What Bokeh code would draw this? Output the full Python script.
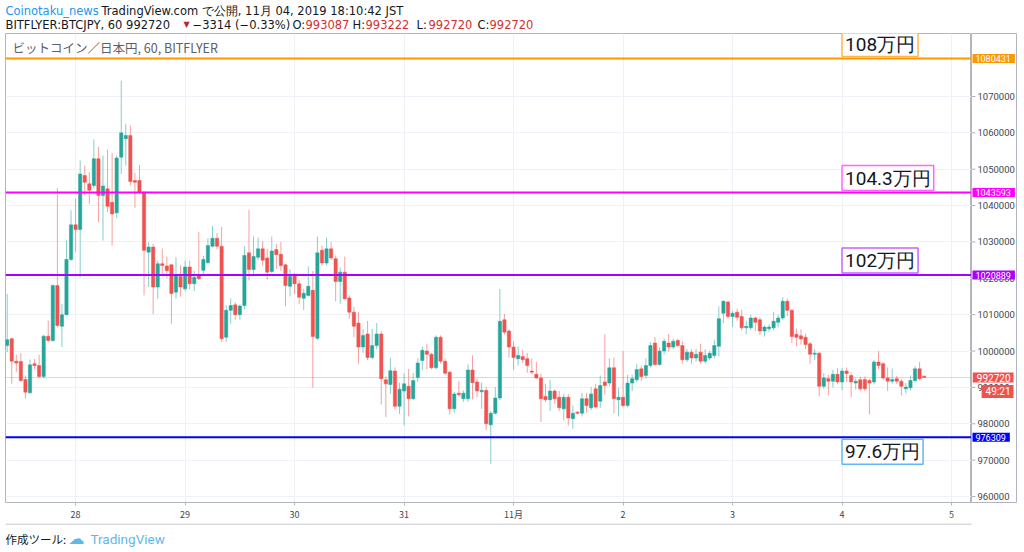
from bokeh.plotting import figure
from bokeh.layouts import column, row
from bokeh.models import Range1d, FixedTicker, Span, Label, ColumnDataSource, Grid
from bokeh.core.properties import value
from bokeh.embed import file_html
from bokeh.resources import INLINE

# ---- data: BITFLYER BTCJPY, 60-minute candles, prices in thousand yen ----
first_hour = 9  # first candle: 10/27 09:00 JST (hours counted from 10/27 00:00)
opens = [1001.5, 1003.4, 997.2, 997.1, 992.2, 988.5, 996.5, 996.0, 993.0, 1004.1,
         1002.9, 1018.0, 1006.8, 1010.0, 1025.2, 1034.7, 1033.4, 1048.3, 1046.0, 1045.5,
         1052.9, 1042.8, 1044.6, 1040.9, 1038.0, 1053.3, 1058.4, 1059.3, 1046.9, 1046.9,
         1043.7, 1027.2, 1028.6, 1017.6, 1024.0, 1023.4, 1023.7, 1016.2, 1020.5, 1017.1,
         1023.1, 1018.5, 1020.8, 1022.2, 1024.3, 1028.8, 1031.0, 1028.8, 1003.8, 1011.2,
         1012.7, 1010.0, 1012.5, 1027.0, 1022.4, 1025.8, 1028.1, 1025.6, 1021.9, 1027.9,
         1026.6, 1023.7, 1017.8, 1020.8, 1018.5, 1014.5, 1015.3, 1016.7, 1003.5, 1027.7,
         1024.2, 1028.1, 1025.4, 1019.1, 1021.7, 1014.6, 1010.7, 1007.7, 1001.1, 1004.7,
         998.2, 1001.5, 1004.7, 992.1, 990.8, 994.5, 984.8, 989.0, 990.3, 986.9,
         992.7, 997.4, 1000.0, 999.1, 995.4, 1003.8, 997.2, 994.2, 984.1, 988.4,
         986.9, 986.9, 994.8, 991.5, 988.8, 989.2, 979.7, 982.9, 987.1, 1008.6,
         1005.5, 1001.1, 997.9, 998.5, 997.9, 994.5, 993.6, 992.6, 987.5, 986.6,
         989.0, 987.3, 984.1, 987.3, 981.4, 983.2, 982.9, 986.9, 984.4, 989.6,
         986.2, 991.5, 991.2, 995.4, 986.6, 987.3, 985.0, 991.2, 992.1, 995.1,
         993.3, 996.0, 1002.2, 996.3, 1000.0, 1002.2, 1001.1, 1002.9, 1001.5, 997.6,
         999.7, 998.1, 999.7, 997.2, 998.1, 998.8, 1001.3, 1010.4, 1013.5, 1009.5,
         1010.7, 1009.5, 1006.4, 1006.4, 1009.1, 1008.6, 1005.5, 1006.1, 1006.4, 1007.9,
         1009.1, 1013.7, 1011.2, 1004.6, 1004.2, 1003.8, 1002.0, 999.1, 999.4, 990.3,
         992.4, 991.7, 993.6, 991.5, 994.5, 993.3, 991.2, 992.1, 992.2, 991.9,
         991.5, 997.0, 996.5, 992.6, 991.7, 992.4, 991.7, 989.6, 989.9, 991.9,
         995.1, 993.087]
highs = [1015.7, 1003.6, 999.0, 999.5, 993.3, 997.7, 997.8, 999.0, 1004.4, 1008.4,
         1018.3, 1044.8, 1013.0, 1030.4, 1038.7, 1041.9, 1052.4, 1051.0, 1049.2, 1058.2,
         1056.1, 1053.8, 1055.4, 1054.5, 1053.8, 1074.4, 1062.5, 1062.0, 1049.0, 1051.2,
         1043.9, 1030.0, 1029.5, 1024.9, 1028.2, 1026.0, 1024.0, 1025.8, 1023.6, 1024.9,
         1024.9, 1022.0, 1032.7, 1026.2, 1031.0, 1034.4, 1032.5, 1034.1, 1012.6, 1014.5,
         1013.4, 1012.8, 1028.8, 1038.8, 1031.5, 1031.2, 1030.2, 1028.1, 1031.5, 1029.5,
         1030.0, 1024.0, 1022.5, 1021.5, 1019.6, 1017.1, 1023.3, 1022.0, 1031.5, 1029.0,
         1031.2, 1030.0, 1026.3, 1023.0, 1026.0, 1015.3, 1012.1, 1010.7, 1006.0, 1008.3,
         1006.1, 1007.7, 1005.5, 993.0, 998.1, 995.5, 991.3, 993.9, 995.1, 994.0,
         998.0, 1001.2, 1002.0, 999.5, 1004.3, 1004.3, 998.0, 994.5, 988.8, 991.7,
         989.2, 996.3, 998.8, 992.5, 991.3, 990.2, 983.5, 990.1, 1017.1, 1010.2,
         1006.0, 1002.7, 1001.3, 1000.4, 999.5, 998.0, 997.0, 993.8, 991.0, 992.0,
         989.5, 989.0, 988.2, 988.2, 985.0, 983.5, 988.5, 988.5, 990.1, 991.0,
         993.3, 1004.6, 998.0, 998.2, 989.9, 1000.0, 993.5, 993.5, 996.5, 996.0,
         998.0, 1002.4, 1003.8, 1001.0, 1003.5, 1004.7, 1003.4, 1003.4, 1002.7, 1000.5,
         1000.5, 1000.5, 1002.0, 1000.5, 1000.0, 1003.1, 1012.3, 1014.0, 1013.9, 1011.0,
         1011.7, 1011.4, 1008.4, 1010.0, 1009.5, 1009.3, 1007.0, 1007.3, 1010.7, 1010.0,
         1014.8, 1014.5, 1011.5, 1006.2, 1006.0, 1004.8, 1002.5, 1000.5, 999.8, 993.9,
         993.5, 994.8, 995.3, 995.3, 995.5, 994.2, 992.5, 993.0, 993.0, 992.4,
         997.5, 1000.0, 997.0, 995.5, 995.2, 993.2, 992.4, 991.2, 993.3, 995.8,
         997.0, 993.222]
lows = [999.7, 991.0, 994.2, 991.5, 986.9, 988.3, 995.0, 992.5, 992.5, 1002.5,
        1002.5, 1006.5, 1001.1, 1009.8, 1024.8, 1027.2, 1020.3, 1042.8, 1040.5, 1044.7,
        1035.4, 1030.4, 1038.2, 1029.0, 1036.5, 1048.7, 1051.0, 1045.5, 1039.4, 1043.2,
        1015.3, 1017.6, 1010.2, 1014.4, 1020.8, 1020.0, 1007.5, 1014.4, 1015.0, 1016.5,
        1017.0, 1016.5, 1019.5, 1020.8, 1024.0, 1028.5, 1028.0, 1002.5, 1002.5, 1007.5,
        1008.6, 1008.6, 1011.5, 1019.4, 1021.0, 1025.0, 1023.5, 1019.6, 1021.5, 1022.5,
        1022.0, 1012.3, 1015.0, 1015.7, 1013.0, 1011.3, 1015.0, 989.9, 1003.0, 1023.5,
        1023.5, 1025.0, 1013.7, 1013.0, 1014.0, 1008.9, 1003.8, 996.5, 999.5, 997.5,
        997.7, 1000.5, 985.3, 981.8, 988.2, 984.0, 982.7, 979.5, 982.0, 986.5,
        991.5, 994.8, 995.0, 995.0, 995.0, 996.5, 993.5, 982.5, 983.0, 987.5,
        986.0, 986.0, 986.7, 987.3, 984.1, 978.2, 969.0, 982.5, 986.5, 1004.5,
        998.2, 994.8, 996.0, 996.7, 994.0, 993.6, 992.3, 980.5, 986.0, 983.5,
        985.5, 983.5, 980.9, 979.5, 978.6, 982.5, 982.0, 983.0, 983.7, 984.3,
        984.3, 988.0, 990.3, 982.9, 982.0, 984.5, 984.5, 989.0, 991.5, 991.8,
        992.5, 995.5, 995.9, 995.9, 999.0, 999.8, 1000.5, 1001.0, 996.5, 997.0,
        996.5, 997.0, 996.5, 996.5, 997.5, 998.0, 998.5, 1007.7, 1009.0, 1006.6,
        1008.3, 1005.7, 1004.6, 1005.7, 1005.5, 1004.4, 1004.0, 1005.3, 1005.7, 1006.5,
        1008.5, 1009.6, 1002.2, 1001.3, 1001.8, 1000.5, 996.5, 997.5, 987.5, 989.6,
        987.8, 990.0, 990.9, 989.2, 991.5, 987.3, 989.4, 989.0, 989.0, 982.6,
        990.8, 995.0, 992.0, 989.0, 991.0, 991.0, 987.8, 988.3, 989.2, 991.3,
        991.9, 992.72]
closes = [1003.1, 997.2, 996.7, 991.9, 988.7, 996.2, 996.0, 993.0, 1004.1, 1002.9,
          1018.0, 1007.0, 1010.0, 1025.2, 1034.7, 1033.4, 1048.7, 1046.4, 1044.2, 1052.9,
          1042.8, 1045.4, 1039.8, 1037.7, 1053.1, 1060.0, 1059.3, 1046.6, 1046.4, 1043.7,
          1027.7, 1028.6, 1017.6, 1024.0, 1023.5, 1022.1, 1015.8, 1021.0, 1017.6, 1023.1,
          1018.5, 1020.3, 1019.9, 1025.2, 1029.0, 1031.0, 1028.8, 1003.4, 1011.2, 1012.5,
          1010.0, 1012.4, 1026.3, 1022.4, 1026.0, 1028.1, 1025.0, 1021.7, 1027.5, 1026.5,
          1023.5, 1018.0, 1020.5, 1018.5, 1014.8, 1015.9, 1017.8, 1004.0, 1027.0, 1024.2,
          1028.1, 1025.6, 1019.1, 1021.7, 1014.4, 1010.7, 1006.8, 1001.1, 1004.3, 998.2,
          1001.5, 1004.7, 992.4, 991.0, 994.6, 984.8, 989.5, 991.0, 986.9, 991.9,
          996.7, 1000.2, 999.1, 995.4, 1003.8, 997.2, 993.9, 984.1, 988.2, 988.0,
          988.4, 994.8, 991.3, 989.0, 989.2, 980.0, 982.9, 987.1, 1008.2, 1005.2,
          1001.1, 998.2, 998.8, 997.6, 996.0, 994.2, 992.6, 986.9, 986.6, 989.0,
          986.9, 984.4, 987.3, 981.6, 982.9, 982.9, 986.9, 985.0, 988.2, 984.6,
          990.5, 990.5, 995.4, 986.9, 987.3, 985.0, 991.2, 992.4, 994.9, 993.0,
          996.0, 1001.5, 996.3, 1000.0, 1002.7, 1001.1, 1002.7, 1001.5, 997.6, 999.7,
          998.1, 999.1, 997.2, 998.8, 999.4, 1001.5, 1008.9, 1013.7, 1009.5, 1010.4,
          1009.3, 1006.4, 1006.8, 1009.1, 1007.9, 1005.5, 1006.6, 1006.6, 1008.2, 1009.1,
          1013.7, 1011.2, 1004.0, 1003.8, 1003.3, 1001.8, 999.1, 999.4, 990.3, 992.6,
          991.7, 993.6, 991.5, 994.5, 993.8, 991.5, 991.7, 989.6, 989.6, 991.2,
          997.0, 996.0, 992.6, 991.7, 992.2, 991.7, 990.3, 990.1, 991.9, 995.1,
          992.4, 992.72]

day_hours = [24, 48, 72, 96, 120, 144, 168, 192, 216]
day_labels = ["28", "29", "30", "31", "11月", "2", "3", "4", "5"]
price_ticks = [960000, 970000, 980000, 990000, 1000000, 1010000,
               1020000, 1030000, 1040000, 1050000, 1060000, 1070000]

level_values = [1080431, 1043593, 1020889, 976309]
level_texts = ["108万円", "104.3万円", "102万円", "97.6万円"]
level_colors = ["#ff9800", "#ff00ff", "#aa00ff", "#0000ff"]
level_box_colors = ["#ffb74d", "#ff66ff", "#c266ff", "#64b5f6"]
level_box_hour = 192          # 11/04 00:00
countdown = "49:21"

header1 = [("Coinotaku_news", 5, "#2196f3"),
           ("TradingView.com で公開, 11月 04, 2019 18:10:42 JST", 101, "#131722")]
header2 = [("BITFLYER:BTCJPY, 60 992720", 5, "#131722"), ("▼", 183, "#b22833"),
           ("−3314 (−0.33%)", 192, "#131722"), ("O:", 292, "#131722"),
           ("993087", 305, "#d32f2f"), ("H:", 352, "#131722"), ("993222", 365, "#d32f2f"),
           ("L:", 416, "#131722"), ("992720", 428, "#d32f2f"), ("C:", 477, "#131722"),
           ("992720", 489, "#d32f2f")]
chart_title = "ビットコイン／日本円, 60, BITFLYER"

K = 1000
UP, DOWN = "#26a69a", "#ef5350"
GRID = "#eef1f7"
BORDER = "#b2b5be"
TICKTXT = "#434651"
HFONT = "DejaVu Sans"
hours = [first_hour + i for i in range(len(opens))]
src = ColumnDataSource(dict(
    x=hours,
    top=[max(o, c) * K for o, c in zip(opens, closes)],
    bottom=[min(o, c) * K for o, c in zip(opens, closes)],
    high=[h * K for h in highs],
    low=[l * K for l in lows],
    color=[UP if c >= o else DOWN for o, c in zip(opens, closes)],
))
last_close = int(round(closes[-1] * K))


def blank_fig(w, h, y_top, y_bottom):
    """A figure whose frame is its whole area, with pixel-like data coordinates."""
    f = figure(width=w, height=h, output_backend="svg", toolbar_location=None, tools="",
               x_range=Range1d(0, w), y_range=Range1d(y_bottom, y_top),
               x_axis_type=None, y_axis_type=None, min_border=0)
    f.title.visible = False
    f.outline_line_color = None
    f.grid.visible = False
    f.background_fill_color = "white"
    f.border_fill_color = "white"
    return f


# ---------------- header ----------------
hdr = blank_fig(1024, 33, 0, 33)
for txt, px, col in header1:
    hdr.add_layout(Label(x=px, y=10, text=txt, text_color=col, text_font=HFONT,
                         text_font_size="11.5px", text_baseline="middle"))
for txt, px, col in header2:
    hdr.add_layout(Label(x=px, y=24, text=txt, text_color=col, text_font=HFONT,
                         text_font_size="8px" if txt == "▼" else "11.5px",
                         text_baseline="middle"))

# ---------------- main chart ----------------
p = figure(width=971, height=490, output_backend="svg", toolbar_location=None, tools="",
           x_range=Range1d(8.63, 220.38), y_range=Range1d(958350, 1087325),
           y_axis_location=None, min_border_left=5, min_border_right=0,
           min_border_top=0, min_border_bottom=21)
p.title.visible = False
p.background_fill_color = "white"
p.border_fill_color = "white"
p.outline_line_color = BORDER
p.outline_line_width = 1

p.xgrid.ticker = FixedTicker(ticks=day_hours)
p.xgrid.grid_line_color = GRID
p.ygrid.visible = False
p.add_layout(Grid(dimension=1, ticker=FixedTicker(ticks=price_ticks), grid_line_color=GRID))

xax = p.xaxis[0]
xax.ticker = FixedTicker(ticks=day_hours, minor_ticks=[])
xax.major_label_overrides = {h: l for h, l in zip(day_hours, day_labels)}
xax.major_label_text_font = "Noto Sans CJK JP"
xax.major_label_text_font_size = "9px"
xax.major_label_text_color = TICKTXT
xax.axis_line_color = BORDER
xax.major_tick_line_color = BORDER
xax.major_tick_out = 3
xax.major_tick_in = 0
xax.minor_tick_line_color = None
xax.major_label_standoff = 2

p.segment(x0="x", y0="low", x1="x", y1="high", line_color="color", line_alpha=0.55,
          line_width=1, source=src)
p.vbar(x="x", width=0.72, top="top", bottom="bottom", fill_color="color",
       line_color="color", line_width=0.5, source=src)

p.add_layout(Span(location=last_close, dimension="width", line_color=DOWN,
                  line_alpha=0.3, line_width=1))

box_pad = dict(left=3, right=3, top=1, bottom=1)
for lv, txt, col, bcol in zip(level_values, level_texts, level_colors, level_box_colors):
    p.add_layout(Span(location=lv, dimension="width", line_color=col, line_width=2))
    below = lv < last_close
    p.add_layout(Label(x=level_box_hour, y=lv, text=txt, text_font="Roboto",
                       text_font_size="19px", text_color="#131722",
                       background_fill_color="white", border_line_color=bcol,
                       border_line_width=1.5, padding=box_pad,
                       text_baseline="top" if below else "bottom",
                       y_offset=-2 if below else 2))

p.add_layout(Label(x=7, y=455, x_units="screen", y_units="screen", text=chart_title,
                   text_color="#5d606b", text_font="Noto Sans CJK JP",
                   text_font_size="12.5px", text_baseline="middle"))

# ---------------- right price scale ----------------
rp = figure(width=46, height=490, output_backend="svg", toolbar_location=None, tools="",
            x_range=Range1d(0, 46), y_range=p.y_range, x_axis_type=None, y_axis_type=None,
            min_border_left=0, min_border_right=0, min_border_top=0, min_border_bottom=21)
rp.title.visible = False
rp.grid.visible = False
rp.outline_line_color = BORDER
rp.background_fill_color = "white"
rp.border_fill_color = "white"
rp.segment(x0=0, x1=4, y0=price_ticks, y1=price_ticks, line_color=BORDER, line_width=1)
rp.text(x=6, y=price_ticks, text=[str(t) for t in price_ticks], text_font=value("Roboto"),
        text_font_size="9.5px", text_color=TICKTXT, text_baseline="middle")

tag_pad = dict(left=3, right=4, top=1, bottom=1)
for lv, col in zip(level_values, level_colors):
    rp.add_layout(Label(x=1, y=lv, text=str(lv), text_font="Roboto", text_font_size="9px",
                        text_color="white", background_fill_color=col,
                        text_baseline="middle", padding=tag_pad))
cur_pad = dict(left=4, right=3, top=1, bottom=1)
rp.add_layout(Label(x=42, y=last_close, text=str(last_close), text_font="Roboto",
                    text_font_size="10px", text_color="white", background_fill_color=DOWN,
                    text_align="right", text_baseline="middle", padding=cur_pad))
rp.add_layout(Label(x=42, y=last_close, y_offset=-14, text=countdown, text_font="Roboto",
                    text_font_size="10px", text_color="white", background_fill_color=DOWN,
                    text_align="right", text_baseline="middle", padding=cur_pad))

# ---------------- footer ----------------
ftr = blank_fig(1024, 29, 523, 552)
ftr.segment(x0=[5], x1=[971], y0=[523.5], y1=[523.5], line_color=BORDER, line_width=1)
ftr.add_layout(Label(x=5, y=538, text="作成ツール:", text_color="#131722",
                     text_font="Noto Sans CJK JP", text_font_size="11.5px",
                     text_baseline="middle"))
ftr.add_layout(Label(x=68, y=538, text="☁", text_color="#5eb8e8", text_font="DejaVu Sans",
                     text_font_size="16px", text_baseline="middle"))
ftr.add_layout(Label(x=90, y=538, text="TradingView", text_color="#5eb8e8",
                     text_font="Roboto", text_font_size="13.5px", text_baseline="middle"))

layout = column(hdr, row(p, rp), ftr)
open("out.html", "w").write(file_html(layout, INLINE))
